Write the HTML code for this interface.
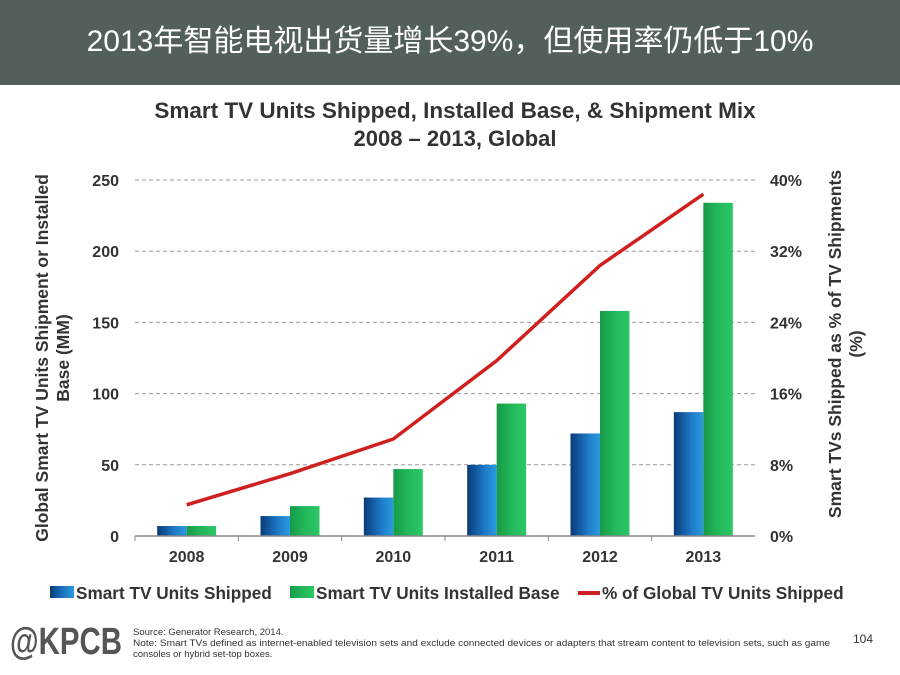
<!DOCTYPE html>
<html><head><meta charset="utf-8"><style>
body{margin:0;width:900px;height:675px;background:#fff;overflow:hidden;font-family:"Liberation Sans","Noto Sans CJK SC",sans-serif;}
#hdr{position:absolute;left:0;top:0;width:900px;height:85px;background:#525f5b;color:#fff;font-size:30px;text-align:center;line-height:84px;}
svg{position:absolute;left:0;top:0}
</style></head><body>
<div id="hdr">2013年智能电视出货量增长39%，但使用率仍低于10%</div>
<svg id="c" width="900" height="675">
<defs>
<linearGradient id="gb" x1="0" x2="1"><stop offset="0" stop-color="#0a3a7a"/><stop offset="0.6" stop-color="#1e7ac8"/><stop offset="1" stop-color="#2a9ae0"/></linearGradient>
<linearGradient id="gg" x1="0" x2="1"><stop offset="0" stop-color="#179a48"/><stop offset="0.5" stop-color="#22b85a"/><stop offset="1" stop-color="#2cc766"/></linearGradient>
</defs>
<text x="455" y="118" text-anchor="middle" font-size="22.5" font-weight="bold" fill="#333">Smart TV Units Shipped, Installed Base, &amp; Shipment Mix</text>
<text x="455" y="146" text-anchor="middle" font-size="22" font-weight="bold" fill="#333">2008 – 2013, Global</text>
<g id="grid"></g><g id="bars"></g><g id="line"></g><g id="axes"></g>
<text transform="translate(48,358) rotate(-90)" text-anchor="middle" font-size="17.5" font-weight="bold" fill="#333">Global Smart TV Units Shipment or Installed</text>
<text transform="translate(69,358) rotate(-90)" text-anchor="middle" font-size="17.5" font-weight="bold" fill="#333">Base (MM)</text>
<text transform="translate(841,344) rotate(-90)" text-anchor="middle" font-size="17.5" font-weight="bold" fill="#333">Smart TVs Shipped as % of TV Shipments</text>
<text transform="translate(862,344) rotate(-90)" text-anchor="middle" font-size="17.5" font-weight="bold" fill="#333">(%)</text>
<g>
<rect x="50" y="586" width="24" height="12" fill="url(#gb)"/>
<text x="76" y="599" font-size="17.2" font-weight="bold" fill="#333">Smart TV Units Shipped</text>
<rect x="290" y="586" width="24" height="12" fill="url(#gg)"/>
<text x="316" y="599" font-size="17.2" font-weight="bold" fill="#333">Smart TV Units Installed Base</text>
<rect x="578" y="591" width="22" height="4" fill="#d01f1f"/>
<text x="602" y="599" font-size="17.2" font-weight="bold" fill="#333">% of Global TV Units Shipped</text>
</g>
<text x="10" y="654" font-size="38" font-weight="bold" fill="#555" textLength="112" lengthAdjust="spacingAndGlyphs">@KPCB</text>
<text x="133" y="635" font-size="9.5" fill="#333">Source: Generator Research, 2014.</text>
<text x="133" y="646" font-size="9.5" fill="#333" textLength="697" lengthAdjust="spacingAndGlyphs">Note: Smart TVs defined as internet-enabled television sets and exclude connected devices or adapters that stream content to television sets, such as game</text>
<text x="133" y="657" font-size="9.5" fill="#333">consoles or hybrid set-top boxes.</text>
<text x="873" y="643" text-anchor="end" font-size="12" fill="#333">104</text>
</svg>
<script>
const categories=["2008","2009","2010","2011","2012","2013"];
const shipped=[7,14,27,50,72,87];
const installed=[7,21,47,93,158,234];
const pctShipped=[3.5,7,10.9,19.7,30.4,38.4];
const leftTicks=[0,50,100,150,200,250];
const rightTicks=["0%","8%","16%","24%","32%","40%"];
const NS="http://www.w3.org/2000/svg";
const X0=135,X1=755,Y0=536,Y1=180;
const bw=(X1-X0)/categories.length;
const yL=v=>Y0-(v/250)*(Y0-Y1);
const yR=v=>Y0-(v/40)*(Y0-Y1);
const xc=i=>X0+bw*(i+0.5);
function mk(t,a,p){const e=document.createElementNS(NS,t);for(const k in a)e.setAttribute(k,a[k]);p.appendChild(e);return e;}
const grid=document.getElementById('grid'),bars=document.getElementById('bars'),line=document.getElementById('line'),axes=document.getElementById('axes');
leftTicks.forEach((v,i)=>{
  if(i>0){const g=mk('line',{x1:X0,x2:X1,y1:yL(v),y2:yL(v),stroke:'#999','stroke-dasharray':'4,3','stroke-width':1},grid);
  
  }
  const t=mk('text',{x:119,y:yL(v)+6,'text-anchor':'end','font-size':16,'font-weight':'bold',fill:'#333'},axes);t.textContent=v;
  
  
  const r=mk('text',{x:770,y:yL(v)+6,'font-size':16,'font-weight':'bold',fill:'#333'},axes);r.textContent=rightTicks[i];
  
  
});
const ax=mk('line',{x1:X0,x2:X1,y1:Y0,y2:Y0,stroke:'#888','stroke-width':1.5},axes);


categories.forEach((c,i)=>{
  const tk=mk('line',{x1:X0+bw*i,x2:X0+bw*i,y1:Y0,y2:Y0+5,stroke:'#888'},axes);
  
  
  const t=mk('text',{x:xc(i),y:Y0+26,'text-anchor':'middle','font-size':16,'font-weight':'bold',fill:'#333'},axes);t.textContent=c;
  
  
  const w=29.5;
  const b=mk('rect',{x:xc(i)-w,y:yL(shipped[i]),width:w,height:Y0-yL(shipped[i]),fill:'url(#gb)'},bars);
  
  
  const g=mk('rect',{x:xc(i),y:yL(installed[i]),width:w,height:Y0-yL(installed[i]),fill:'url(#gg)'},bars);
  
  
});
const pl=mk('polyline',{points:pctShipped.map((v,i)=>xc(i)+','+yR(v)).join(' '),fill:'none',stroke:'#d01f1f','stroke-width':3.5},line);


</script>
</body></html>
